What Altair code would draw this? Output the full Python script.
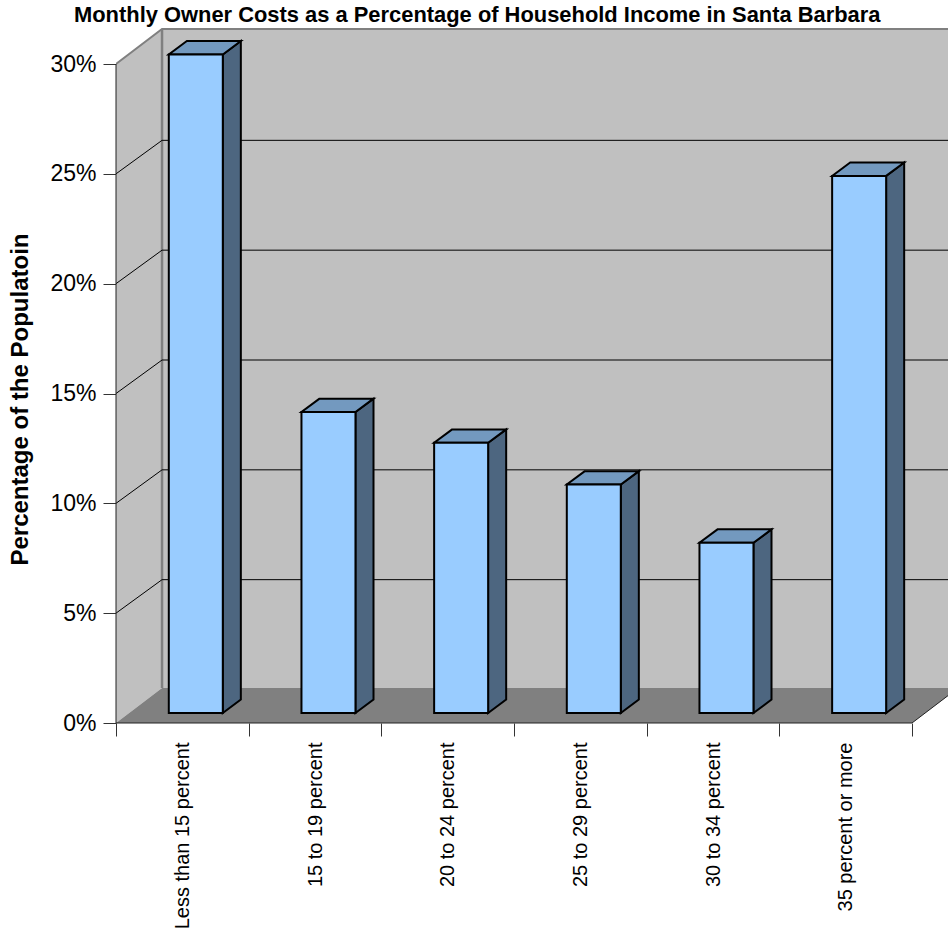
import json
import altair as alt
import pandas as pd

# Chart content
categories = ["Less than 15 percent", "15 to 19 percent", "20 to 24 percent",
              "25 to 29 percent", "30 to 34 percent", "35 percent or more"]
shares = [29.98, 13.7, 12.3, 10.4, 7.75, 24.45]
y_ticks = [0, 5, 10, 15, 20, 25, 30]
grid_levels = [5, 10, 15, 20, 25]

# Oblique projection of the box, in axis units (category slots, percent points)
WALL_DX, WALL_DY = 0.347, 1.593
GRID_DY = 1.525
BAR_X0, BAR_WIDTH = 0.398, 0.407
BAR_LIFT = 0.455
BAR_DX, BAR_DY = 0.136, 0.61
Y_TOP = 30

PLOT_W, PLOT_H = 832, 699
X_MAX = PLOT_W / (796 / 6)
Y_MAX = PLOT_H / (659 / 30)

FONT = "Liberation Sans"
WALL, FLOOR, EDGE = "#c0c0c0", "#808080", "#808080"
FRONT, SIDE, TOP = "#99ccff", "#4d6680", "#7399bf"

x_scale = alt.Scale(domain=[0, X_MAX], nice=False, zero=False)
y_scale = alt.Scale(domain=[0, Y_MAX], nice=False, zero=False)

cat_js = json.dumps(categories)
x_axis = alt.Axis(
    values=[i / 2 for i in range(13)],
    labelExpr=f"datum.value % 1 ? {cat_js}[floor(datum.value)] : ''",
    labelAngle=270, labelAlign="right", labelBaseline="middle",
    labelFont=FONT, labelFontSize=20, labelColor="black", labelPadding=6,
    labelLimit=0, labelOverlap=False, labelBound=False, labelFlush=False,
    tickSize=13, tickColor="#333333", tickWidth=1,
    tickOpacity={"condition": {"test": "datum.value % 1 === 0", "value": 1}, "value": 0},
    domain=False, grid=False, title=None,
)
y_axis = alt.Axis(
    values=y_ticks, labelExpr="datum.value + '%'",
    labelFont=FONT, labelFontSize=23, labelColor="black", labelPadding=7,
    tickSize=13, tickColor="#333333", tickWidth=1,
    domain=False, grid=False,
    title="Percentage of the Populatoin",
    titleFont=FONT, titleFontSize=24, titleFontWeight="bold", titleColor="black",
    titleX=-96, titleY=375, titleAngle=270, titleAlign="center", titleBaseline="middle",
)

def xq():
    return alt.X("x:Q", scale=x_scale, axis=x_axis)

def yq():
    return alt.Y("y:Q", scale=y_scale, axis=y_axis, stack=None)

# Back wall, side wall and floor
side_wall = pd.DataFrame({"x": [0, WALL_DX], "y": [0, WALL_DY],
                          "y2": [Y_TOP, Y_TOP + WALL_DY]})
back_wall = pd.DataFrame({"x": [WALL_DX], "x2": [X_MAX], "y": [WALL_DY], "y2": [Y_TOP + WALL_DY]})
floor = pd.DataFrame({"y": [0, WALL_DY], "x": [0, WALL_DX], "x2": [6, 6 + WALL_DX]})

layers = [
    alt.Chart(back_wall).mark_rect(color=WALL, clip=True).encode(
        x=xq(), x2="x2:Q", y=yq(), y2="y2:Q"),
    alt.Chart(side_wall).mark_area(color=WALL, orient="vertical").encode(
        x=xq(), y=yq(), y2="y2:Q"),
    alt.Chart(floor).mark_area(color=FLOOR, orient="horizontal", clip=True).encode(
        y=yq(), x=xq(), x2="x2:Q"),
]

# Gridlines run up the side wall, then across the back wall
grid_rows = []
for level in grid_levels:
    grid_rows += [{"level": level, "x": 0, "y": level},
                  {"level": level, "x": WALL_DX, "y": level + GRID_DY},
                  {"level": level, "x": X_MAX, "y": level + GRID_DY}]
grid_layer = alt.Chart(pd.DataFrame(grid_rows)).mark_line(color="black", strokeWidth=1, clip=True).encode(
    x=xq(), y=yq(), detail="level:N")

# Wall outline in grey
top_edge = pd.DataFrame({"x": [0, WALL_DX, X_MAX], "y": [Y_TOP, Y_TOP + WALL_DY, Y_TOP + WALL_DY]})
layers.append(alt.Chart(top_edge).mark_line(color=EDGE, strokeWidth=2, clip=True).encode(x=xq(), y=yq()))
corner = pd.DataFrame({"x": [WALL_DX, WALL_DX], "y": [WALL_DY, Y_TOP + WALL_DY]})
layers.append(alt.Chart(corner).mark_line(color=EDGE, strokeWidth=2.5).encode(x=xq(), y=yq()))
layers.append(grid_layer)

# Front axis lines and the floor's right edge
axis_v = pd.DataFrame({"x": [0, 0], "y": [0, Y_TOP]})
layers.append(alt.Chart(axis_v).mark_line(color="#222222", strokeWidth=1).encode(x=xq(), y=yq()))
axis_h = pd.DataFrame({"x": [0, 6], "y": [0, 0]})
layers.append(alt.Chart(axis_h).mark_line(color="#222222", strokeWidth=1).encode(x=xq(), y=yq()))
floor_edge = pd.DataFrame({"x": [6, 6 + WALL_DX], "y": [0, WALL_DY]})
layers.append(alt.Chart(floor_edge).mark_line(color="#222222", strokeWidth=1, clip=True).encode(x=xq(), y=yq()))

# Bars: side face, top face, front face
side_rows, top_rows, front_rows = [], [], []
for i, (cat, v) in enumerate(zip(categories, shares)):
    x0 = i + BAR_X0
    x1 = x0 + BAR_WIDTH
    base = BAR_LIFT
    peak = BAR_LIFT + v
    side_rows += [{"cat": cat, "x": x1, "y": base, "y2": peak},
                  {"cat": cat, "x": x1 + BAR_DX, "y": base + BAR_DY, "y2": peak + BAR_DY}]
    top_rows += [{"cat": cat, "y": peak, "x": x0, "x2": x1},
                 {"cat": cat, "y": peak + BAR_DY, "x": x0 + BAR_DX, "x2": x1 + BAR_DX}]
    front_rows.append({"cat": cat, "x": x0, "x2": x1, "y": base, "y2": peak})

stroke = dict(stroke="black", strokeWidth=2, strokeJoin="miter")
layers.append(alt.Chart(pd.DataFrame(side_rows)).mark_area(color=SIDE, orient="vertical", **stroke).encode(
    x=xq(), y=yq(), y2="y2:Q", detail="cat:N"))
layers.append(alt.Chart(pd.DataFrame(top_rows)).mark_area(color=TOP, orient="horizontal", **stroke).encode(
    y=yq(), x=xq(), x2="x2:Q", detail="cat:N"))
layers.append(alt.Chart(pd.DataFrame(front_rows)).mark_rect(color=FRONT, **stroke).encode(
    x=xq(), x2="x2:Q", y=yq(), y2="y2:Q"))

chart = alt.layer(*layers).properties(
    width=PLOT_W, height=PLOT_H,
    title=alt.TitleParams(
        "Monthly Owner Costs as a Percentage of Household Income in Santa Barbara",
        font=FONT, fontSize=21.9, fontWeight="bold", color="black",
        anchor="start", dx=66, offset=-3,
    ),
    padding={"left": 116, "top": 24, "right": 0, "bottom": 209},
    autosize=alt.AutoSizeParams(type="none"),
    background="white",
).configure_view(stroke=None)

chart.save("out.html", embed_options={"renderer": "svg", "actions": False})
